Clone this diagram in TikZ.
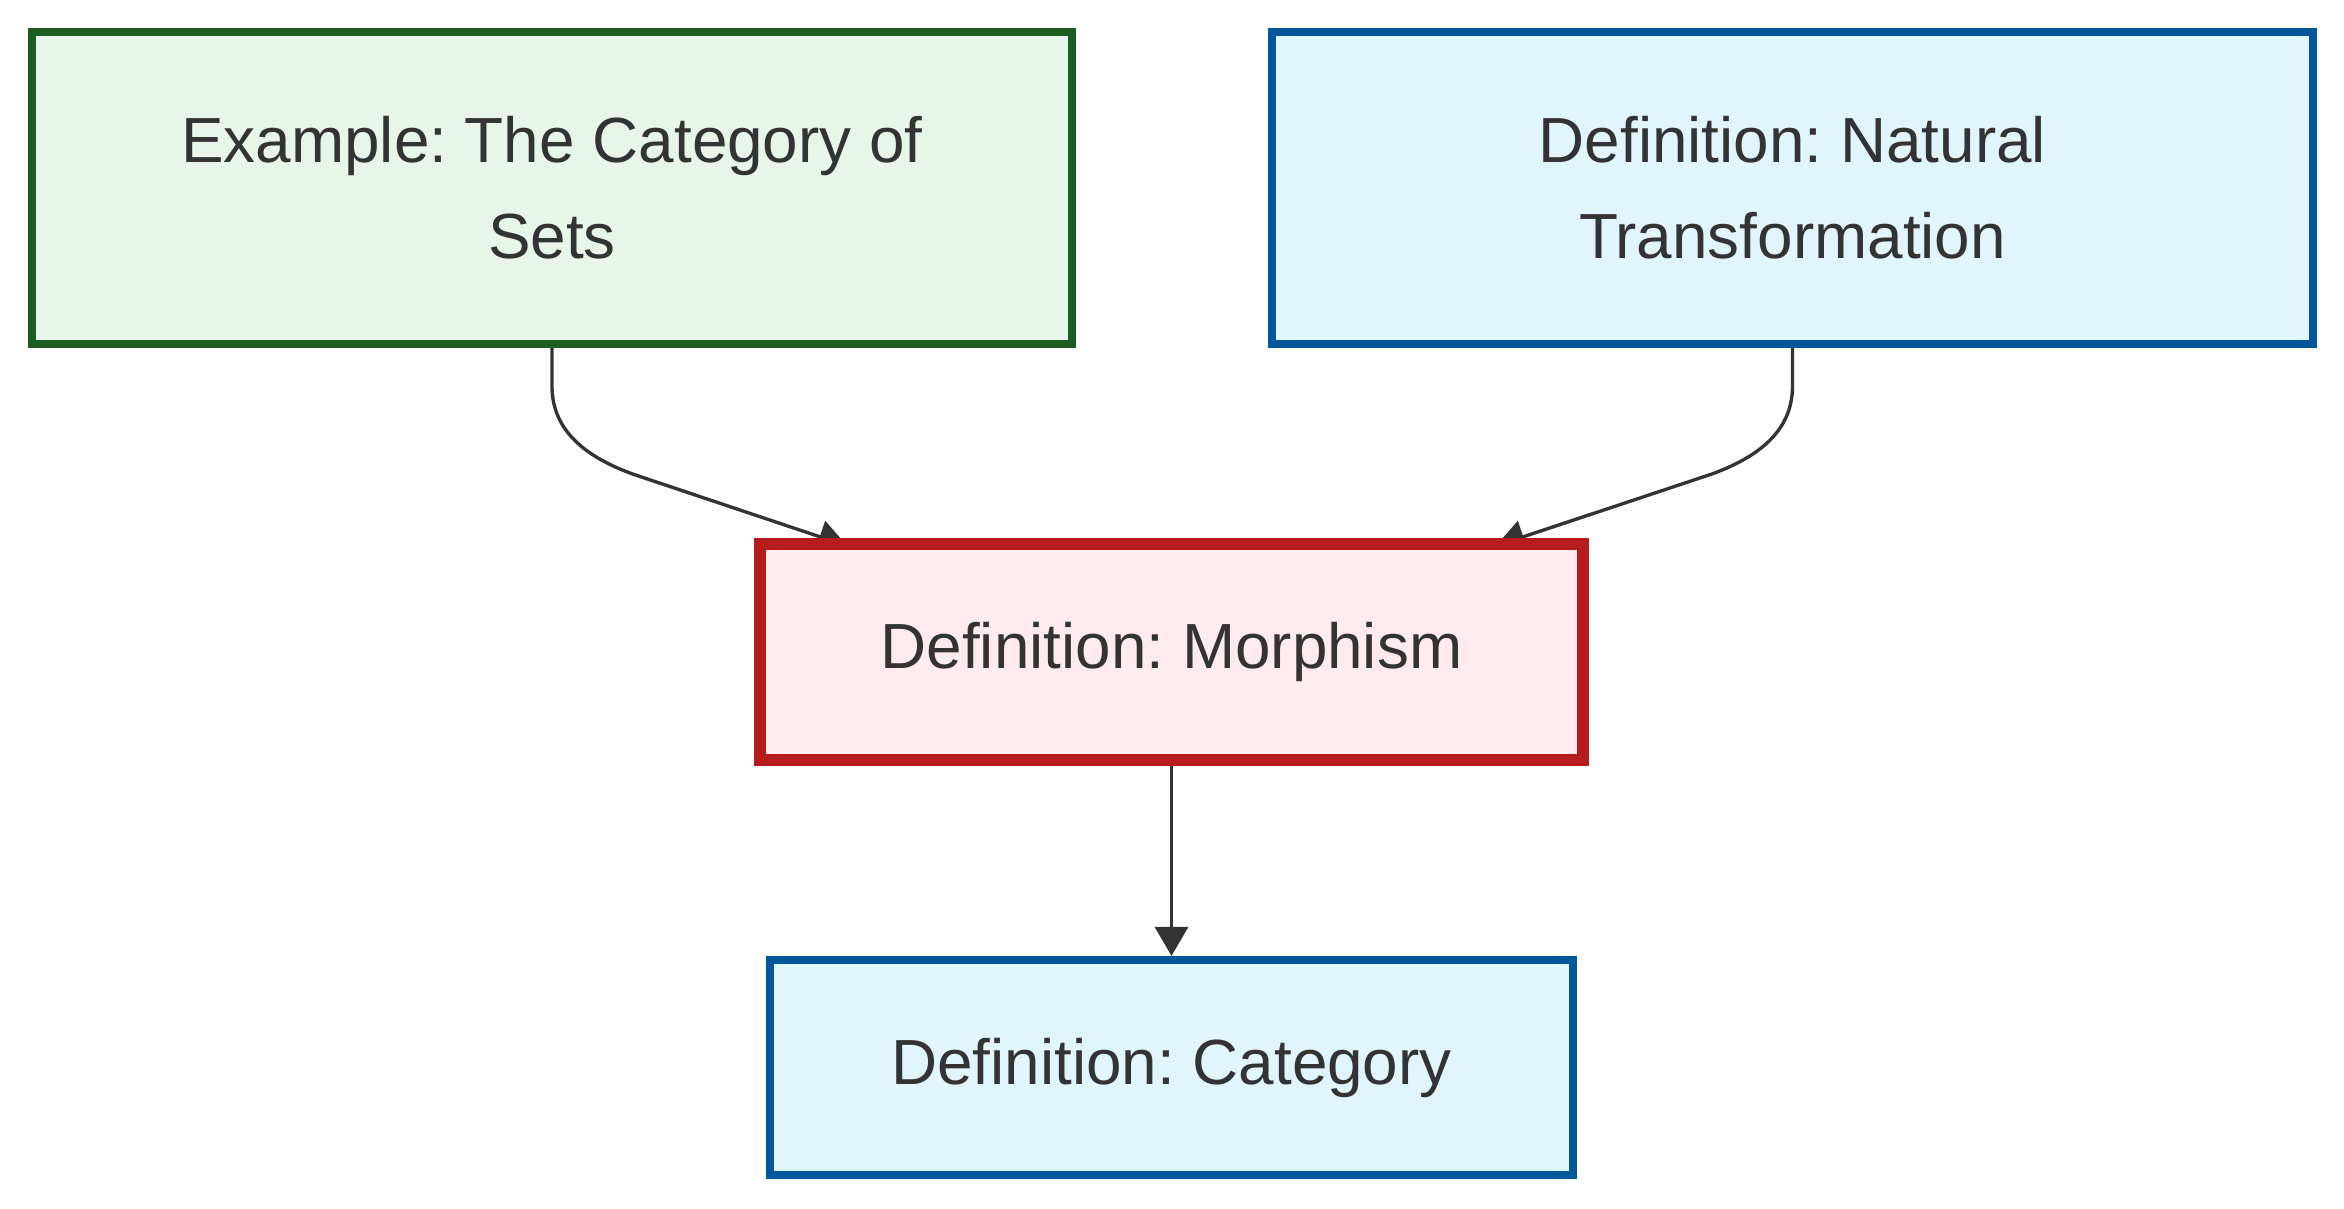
\documentclass[tikz,border=0pt]{standalone}
\usepackage{fontspec}
\setmainfont{Liberation Sans}
\usepackage{xcolor}
\usepackage{tikz}
\usetikzlibrary{arrows.meta}
\usetikzlibrary{backgrounds}
\usetikzlibrary{calc}
\definecolor{exfill}{HTML}{E8F5E9}
\definecolor{exline}{HTML}{1B5E20}
\definecolor{deffill}{HTML}{E1F5FE}
\definecolor{defline}{HTML}{01579B}
\definecolor{hlfill}{HTML}{FFEBEE}
\definecolor{hlline}{HTML}{B71C1C}
\definecolor{ink}{HTML}{333333}
\frenchspacing
\tikzset{nd/.style={rectangle,draw,align=center,text=ink,font=\fontsize{18.15}{27.3}\selectfont}}
\tikzset{exbox/.style={nd,fill=exfill,draw=exline,line width=2.3pt}}
\tikzset{defbox/.style={nd,fill=deffill,draw=defline,line width=2.3pt}}
\tikzset{hlbox/.style={nd,fill=hlfill,draw=hlline,line width=3.4pt}}
\tikzset{edge/.style={draw=ink,line width=0.95pt,-{Triangle[length=0.29cm,width=0.33cm]}}}

\begin{document}
\begin{tikzpicture}[x=0.01cm,y=-0.01cm]
    \useasboundingbox (0,0) rectangle (2344,1208);

    \node[exbox,minimum width=10.40cm,minimum height=3.12cm] (sets) at (552,188) {Example: The Category of\\Sets};
    \node[defbox,minimum width=10.41cm,minimum height=3.12cm] (nattrans) at (1792.5,188) {Definition: Natural\\Transformation};
    \node[hlbox,minimum width=8.23cm,minimum height=2.16cm] (morph) at (1171.5,652) {Definition: Morphism};
    \node[defbox,minimum width=8.03cm,minimum height=2.15cm] (cat) at (1171.5,1067.5) {Definition: Category};

    \coordinate (inleft) at ([xshift=-3.24cm,yshift=-0.08cm]morph.north);
    \coordinate (inright) at ([xshift=3.24cm,yshift=-0.08cm]morph.north);

    \begin{pgfonlayer}{background}
    \draw[edge] (sets.south) -- ++(0,38) to[out=-90,in=160] ++(81,88) -- (inleft);
    \draw[edge] (nattrans.south) -- ++(0,38) to[out=-90,in=20] ++(-81,88) -- (inright);
    \end{pgfonlayer}

    \draw[edge] (morph) -- (cat);

\end{tikzpicture}
\end{document}
